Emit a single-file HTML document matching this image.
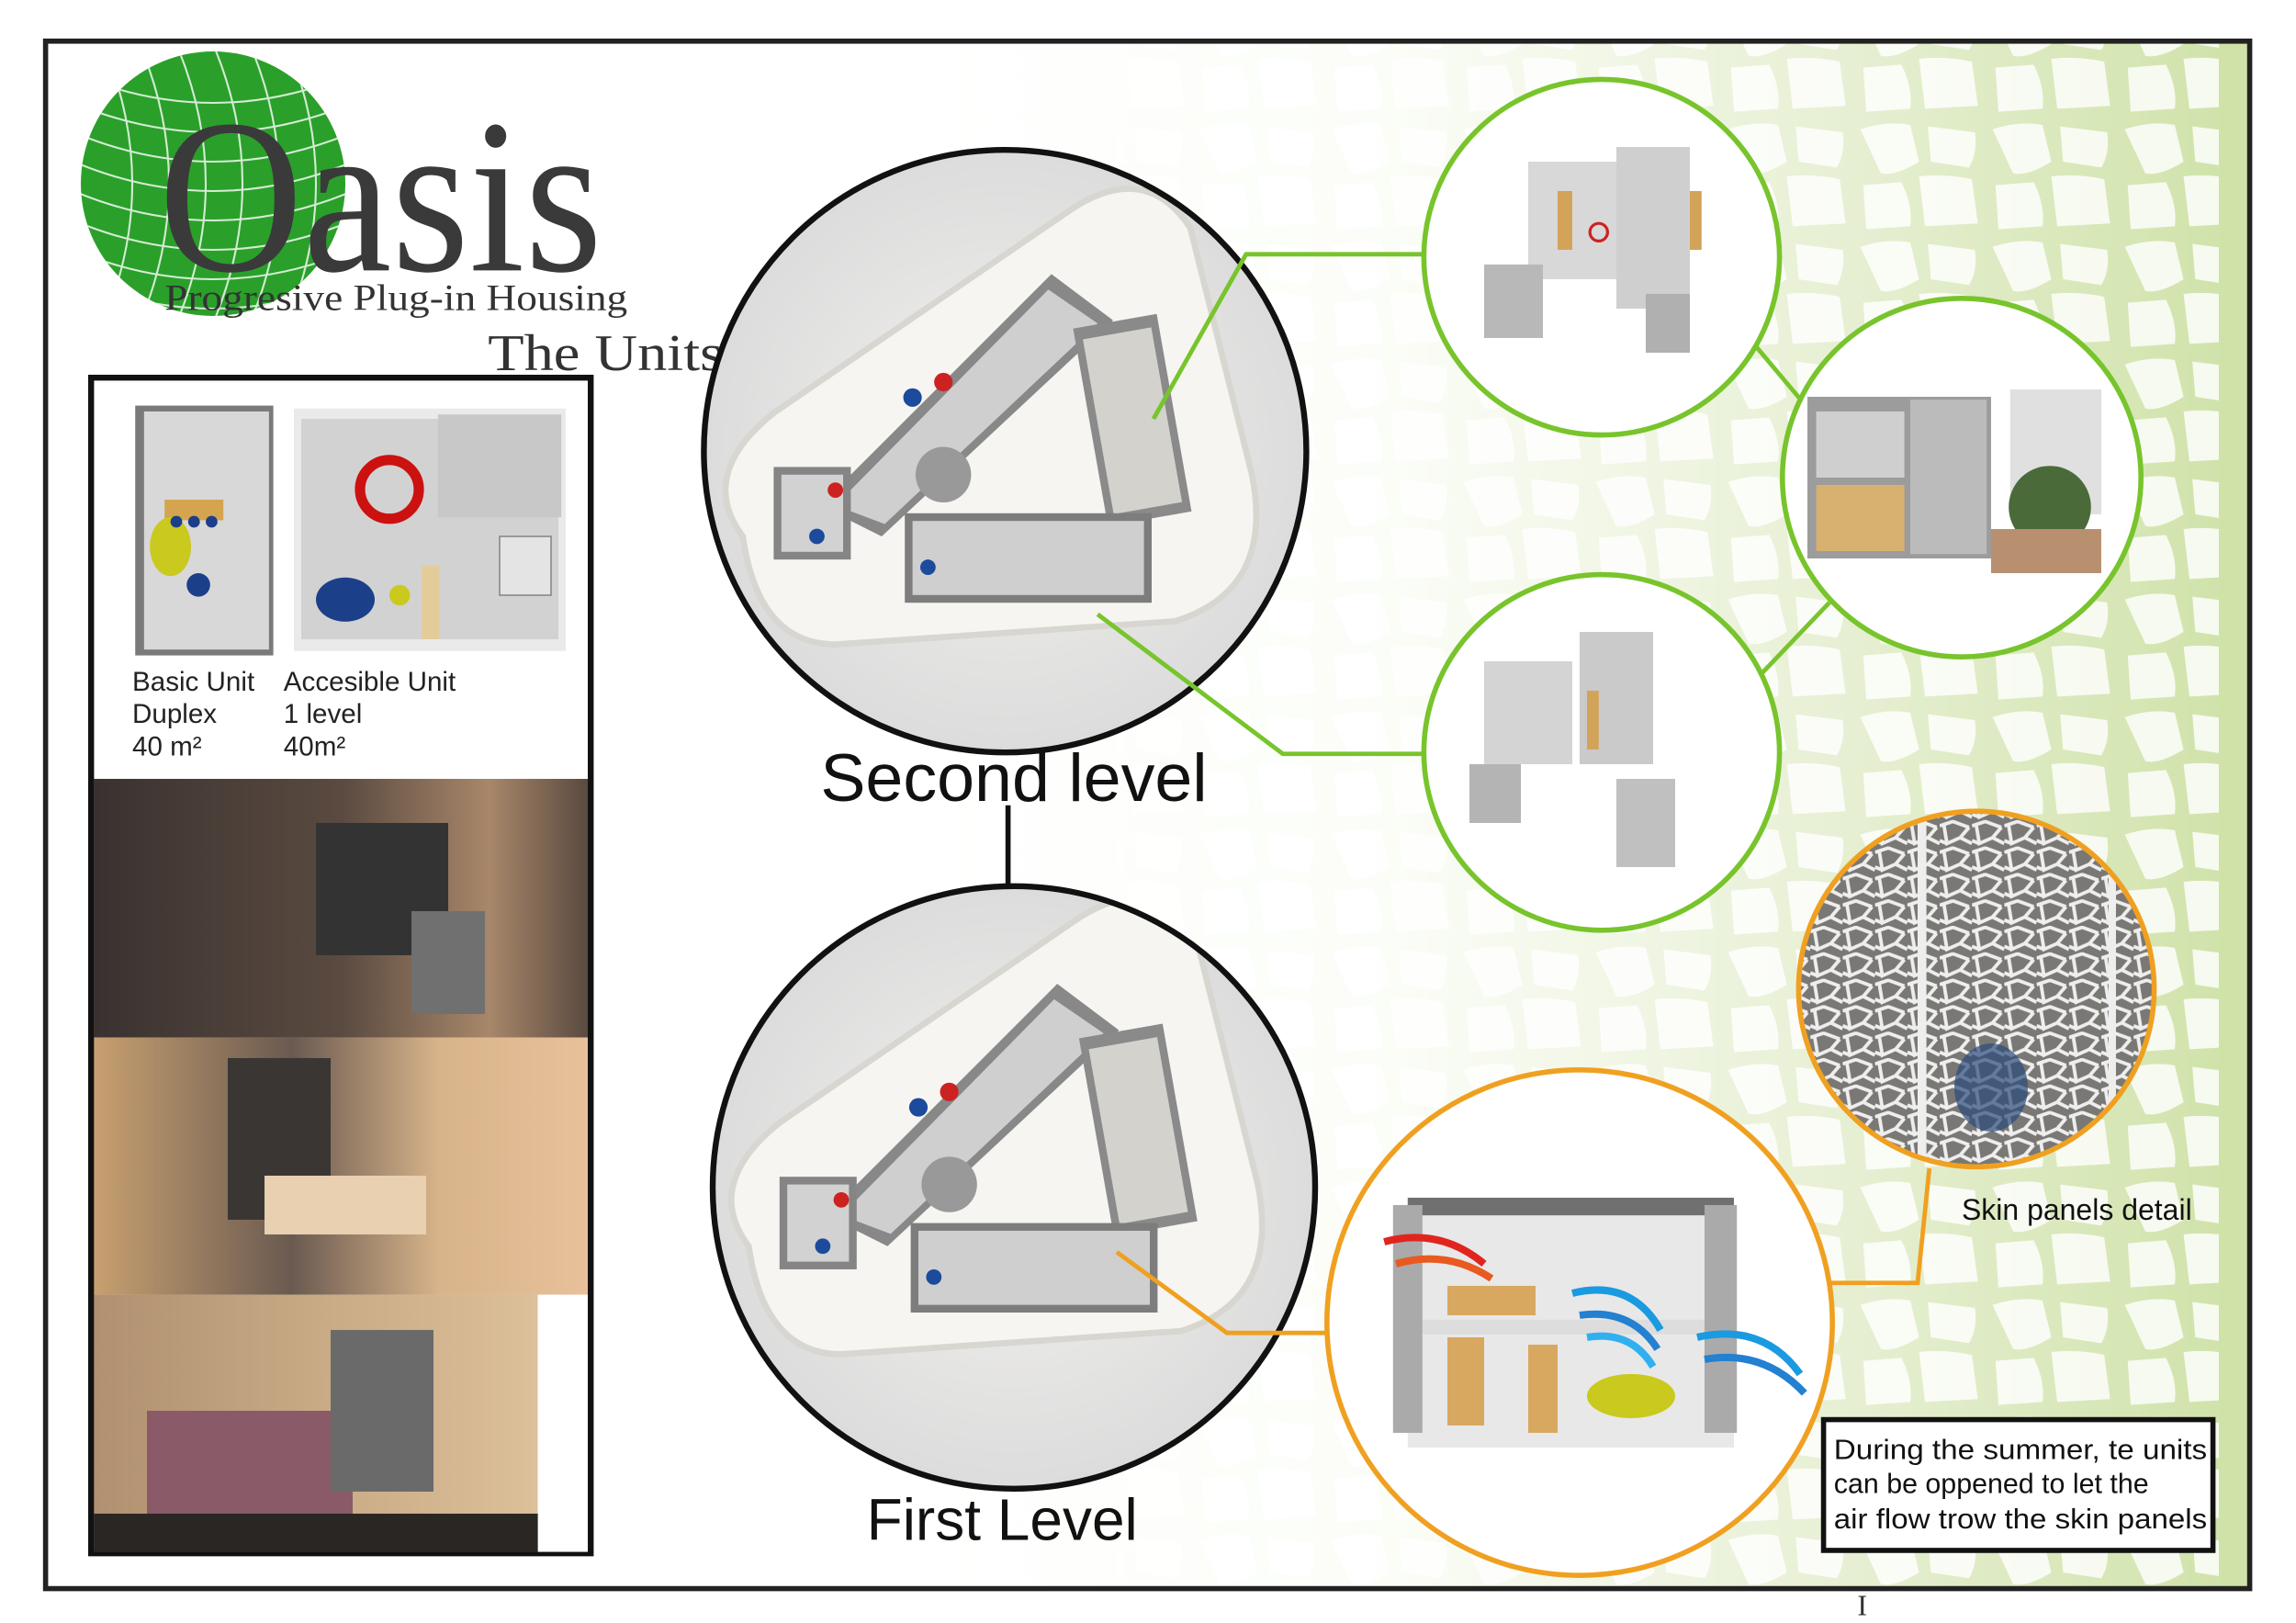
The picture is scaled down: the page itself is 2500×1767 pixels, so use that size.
<!DOCTYPE html>
<html><head><meta charset="utf-8"><style>
html,body{margin:0;padding:0;background:#fff;}
svg{display:block;}
.s{font-family:"Liberation Sans",sans-serif;}
.f{font-family:"Liberation Serif",serif;}
</style></head><body>
<svg width="2500" height="1767" viewBox="0 0 1562.5 1104.4" xmlns="http://www.w3.org/2000/svg">
<defs>
<linearGradient id="bg" x1="0" x2="1" y1="0" y2="0">
<stop offset="0" stop-color="#fff"/><stop offset="0.35" stop-color="#fbfdf7"/><stop offset="0.7" stop-color="#e6efd2"/><stop offset="1" stop-color="#cfe2a8"/></linearGradient>
<pattern id="cells" width="90" height="80" patternUnits="userSpaceOnUse">
<path d="M6 8 Q24 2 40 5 L46 30 Q30 40 20 38 Z M52 6 L84 10 Q86 24 80 34 L54 30 Z M8 46 L34 44 Q42 60 40 74 L10 76 Z M46 40 Q64 38 82 42 L86 72 L50 74 Z" fill="#fff" opacity="0.9"/>
</pattern>
<radialGradient id="floor" cx="0.5" cy="0.5" r="0.5"><stop offset="0" stop-color="#f3f2ef"/><stop offset="1" stop-color="#dcdcdc"/></radialGradient>
<pattern id="mesh" width="22" height="18" patternUnits="userSpaceOnUse"><rect width="22" height="18" fill="#7a7874"/><path d="M0 4 L9 1 L20 5 M3 4 L5 16 L14 12 L20 5 M14 12 L22 16 M0 14 L5 16" stroke="#eee" stroke-width="2.4" fill="none"/></pattern>
<clipPath id="c1"><circle cx="684" cy="307" r="205"/></clipPath>
<clipPath id="c2"><circle cx="690" cy="808" r="205"/></clipPath>
<clipPath id="cs"><circle cx="1345" cy="673" r="121"/></clipPath>
<clipPath id="cl"><circle cx="145" cy="125" r="90"/></clipPath>
<g id="bld">
<path d="M-170 60 Q-200 20 -150 -20 L40 -150 Q90 -185 120 -140 L160 20 Q175 95 110 115 L-110 130 Q-160 130 -170 60 Z" fill="#f6f5f1" stroke="#d8d6d0" stroke-width="4"/>
<path d="M-120 40 L30 -110 L70 -80 L-80 60 Z" fill="#888"/>
<path d="M-110 40 L28 -100 L60 -78 L-78 52 Z" fill="#cfcfcf"/>
<rect x="55" y="-80" width="55" height="130" fill="#8a8a8a" transform="rotate(-10 80 -15)"/>
<rect x="60" y="-72" width="45" height="115" fill="#d4d2cc" transform="rotate(-10 80 -15)"/>
<rect x="-65" y="45" width="160" height="58" fill="#7d7d7d"/>
<rect x="-60" y="50" width="150" height="48" fill="#cfcfcf"/>
<rect x="-150" y="15" width="50" height="60" fill="#858585"/>
<rect x="-145" y="20" width="40" height="50" fill="#d2d2d2"/>
<circle cx="-40" cy="20" r="18" fill="#999"/>
<circle cx="-60" cy="-30" r="6" fill="#1c4a9c"/><circle cx="-122" cy="60" r="5" fill="#1c4a9c"/><circle cx="-50" cy="80" r="5" fill="#1c4a9c"/>
<circle cx="-40" cy="-40" r="6" fill="#c22"/><circle cx="-110" cy="30" r="5" fill="#c22"/>
</g>
</defs>
<rect width="1562.5" height="1104.4" fill="#fff"/>
<rect x="640" y="29" width="890" height="1051" fill="url(#bg)"/>
<rect x="760" y="29" width="770" height="1051" fill="url(#cells)" opacity="0.9"/>
<rect x="1510" y="29" width="20" height="1051" fill="#cfe2a8"/>
<rect x="31" y="28" width="1500" height="1053" fill="none" stroke="#222" stroke-width="3.5"/>
<text class="f" x="1264" y="1099" font-size="20" fill="#333">I</text>

<!-- logo -->
<circle cx="145" cy="125" r="90" fill="#2aa02a"/>
<g clip-path="url(#cl)" stroke="#fff" stroke-width="1.3" fill="none" opacity="0.8">
<path d="M50 50 Q145 90 240 50 M50 70 Q145 110 240 70 M50 90 Q145 130 240 90 M50 110 Q145 150 240 110 M50 130 Q145 170 240 130 M50 150 Q145 190 240 150 M50 170 Q145 210 240 170 M50 190 Q145 230 240 190"/>
<path d="M70 30 Q110 125 70 220 M95 30 Q135 125 95 220 M120 30 Q160 125 120 220 M145 30 Q185 125 145 220 M170 30 Q210 125 170 220 M195 30 Q235 125 195 220"/>
</g>
<text class="f" x="108" y="184" font-size="150" fill="#3a3a3a" textLength="302" lengthAdjust="spacingAndGlyphs">Oasis</text>
<text class="f" x="112" y="211" font-size="25" fill="#333" textLength="315" lengthAdjust="spacingAndGlyphs">Progresive Plug-in Housing</text>
<text class="f" x="332" y="252" font-size="35" fill="#333" textLength="160" lengthAdjust="spacingAndGlyphs">The Units</text>

<!-- left panel -->
<rect x="62" y="257" width="340" height="800" fill="#fff" stroke="#111" stroke-width="4"/>
<rect x="92" y="276" width="94" height="170" fill="#7a7a7a"/>
<rect x="98" y="280" width="85" height="162" fill="#d8d8d8"/>
<rect x="112" y="340" width="40" height="14" fill="#d5a44e"/>
<ellipse cx="116" cy="372" rx="14" ry="20" fill="#c9c91e"/>
<circle cx="120" cy="355" r="4" fill="#1c3f8a"/><circle cx="132" cy="355" r="4" fill="#1c3f8a"/><circle cx="144" cy="355" r="4" fill="#1c3f8a"/>
<circle cx="135" cy="398" r="8" fill="#1c3f8a"/>
<rect x="200" y="278" width="185" height="165" fill="#eaeaea"/>
<rect x="205" y="285" width="175" height="150" fill="#d2d2d2"/>
<rect x="298" y="282" width="84" height="70" fill="#c8c8c8"/>
<circle cx="265" cy="333" r="20" fill="none" stroke="#c11" stroke-width="7"/>
<ellipse cx="235" cy="408" rx="20" ry="15" fill="#1c3f8a"/>
<circle cx="272" cy="405" r="7" fill="#c9c91e"/>
<rect x="287" y="385" width="12" height="50" fill="#e3cc9a"/>
<rect x="340" y="365" width="35" height="40" fill="#e4e4e4" stroke="#888"/>
<g class="s" font-size="18.5" fill="#222">
<text x="90" y="470">Basic Unit</text><text x="90" y="492">Duplex</text><text x="90" y="514">40 m²</text>
<text x="193" y="470">Accesible Unit</text><text x="193" y="492">1 level</text><text x="193" y="514">40m²</text>
</g>
<defs>
<linearGradient id="p1" x1="0" x2="1"><stop offset="0" stop-color="#3a3230"/><stop offset="0.5" stop-color="#5a4a40"/><stop offset="0.8" stop-color="#a8876a"/><stop offset="1" stop-color="#5a4a40"/></linearGradient>
<linearGradient id="p2" x1="0" x2="1"><stop offset="0" stop-color="#c8a070"/><stop offset="0.4" stop-color="#6a5a50"/><stop offset="0.7" stop-color="#d8b48a"/><stop offset="1" stop-color="#e8c09a"/></linearGradient>
<linearGradient id="p3" x1="0" x2="1"><stop offset="0" stop-color="#b09070"/><stop offset="0.5" stop-color="#c8aa85"/><stop offset="1" stop-color="#dcc09a"/></linearGradient>
</defs>
<rect x="64" y="530" width="336" height="176" fill="url(#p1)"/>
<rect x="215" y="560" width="90" height="90" fill="#333"/><rect x="280" y="620" width="50" height="70" fill="#707070"/>
<rect x="64" y="706" width="336" height="175" fill="url(#p2)"/>
<rect x="155" y="720" width="70" height="110" fill="#3a3634"/><rect x="180" y="800" width="110" height="40" fill="#e8d0b0"/>
<rect x="64" y="881" width="302" height="175" fill="url(#p3)"/>
<rect x="366" y="881" width="34" height="175" fill="#fff"/>
<rect x="100" y="960" width="140" height="80" fill="#8a5a68"/><rect x="225" y="905" width="70" height="110" fill="#6a6a6a"/>
<rect x="64" y="1030" width="302" height="26" fill="#2a2624"/>

<!-- big circles -->
<circle cx="684" cy="307" r="205" fill="url(#floor)"/>
<g clip-path="url(#c1)"><use href="#bld" transform="translate(684 302) scale(1.05)"/></g>
<circle cx="684" cy="307" r="205" fill="none" stroke="#111" stroke-width="4"/>
<circle cx="690" cy="808" r="205" fill="url(#floor)"/>
<g clip-path="url(#c2)"><use href="#bld" transform="translate(688 785) scale(1.05)"/></g>
<circle cx="690" cy="808" r="205" fill="none" stroke="#111" stroke-width="4"/>
<line x1="686" y1="548" x2="686" y2="604" stroke="#111" stroke-width="3.5"/>
<text class="s" x="690" y="545" font-size="46" text-anchor="middle" fill="#111">Second level</text>
<text class="s" x="682" y="1048" font-size="40" text-anchor="middle" fill="#111">First Level</text>

<!-- connectors -->
<g stroke="#78c42c" stroke-width="3" fill="none">
<polyline points="785,285 848,173 968,173"/>
<polyline points="747,418 873,513 968,513"/>
<line x1="1165" y1="200" x2="1228" y2="275"/>
<line x1="1180" y1="478" x2="1245" y2="410"/>
</g>
<g stroke="#f0a020" stroke-width="3" fill="none">
<polyline points="760,852 835,907 902,907"/>
<polyline points="1185,873 1305,873 1313,795"/>
</g>

<!-- green detail circles -->
<circle cx="1090" cy="175" r="121" fill="#fff" stroke="#78c42c" stroke-width="3.5"/>
<g fill="#aaa"><rect x="1000" y="95" width="18" height="60" transform="skewY(-10)"/><rect x="1040" y="110" width="60" height="80" fill="#d8d8d8"/><rect x="1100" y="100" width="50" height="110" fill="#cfcfcf"/><rect x="1010" y="180" width="40" height="50" fill="#b8b8b8"/><rect x="1120" y="200" width="30" height="40" fill="#b0b0b0"/><rect x="1060" y="130" width="10" height="40" fill="#d4a35a"/><rect x="1150" y="130" width="8" height="40" fill="#d4a35a"/><circle cx="1088" cy="158" r="6" fill="none" stroke="#c22" stroke-width="2"/></g>
<circle cx="1335" cy="325" r="122" fill="#fff" stroke="#78c42c" stroke-width="3.5"/>
<rect x="1230" y="270" width="125" height="110" fill="#9c9c9c"/>
<rect x="1236" y="280" width="60" height="45" fill="#cfcfcf"/><rect x="1236" y="330" width="60" height="45" fill="#d8b070"/>
<rect x="1300" y="272" width="52" height="105" fill="#bbb"/>
<rect x="1368" y="265" width="62" height="85" fill="#e0e0e0"/>
<circle cx="1395" cy="345" r="28" fill="#4a6a3a"/><rect x="1355" y="360" width="75" height="30" fill="#b89070"/>
<circle cx="1090" cy="512" r="121" fill="#fff" stroke="#78c42c" stroke-width="3.5"/>
<g><rect x="1010" y="450" width="60" height="70" fill="#d4d4d4"/><rect x="1075" y="430" width="50" height="90" fill="#cacaca"/><rect x="1000" y="520" width="35" height="40" fill="#b4b4b4"/><rect x="1100" y="530" width="40" height="60" fill="#c0c0c0"/><rect x="1080" y="470" width="8" height="40" fill="#d4a35a"/></g>

<!-- skin detail -->
<circle cx="1345" cy="673" r="121" fill="url(#mesh)"/>
<g clip-path="url(#cs)"><rect x="1305" y="550" width="6" height="250" fill="#eee"/><rect x="1435" y="550" width="5" height="250" fill="#eee"/><ellipse cx="1355" cy="740" rx="25" ry="30" fill="#2a4a7a" opacity="0.7"/></g>
<circle cx="1345" cy="673" r="121" fill="none" stroke="#f0a020" stroke-width="3.5"/>
<text class="s" x="1335" y="830" font-size="20" fill="#111">Skin panels detail</text>

<!-- orange big -->
<circle cx="1075" cy="900" r="172" fill="#fff" stroke="#f0a020" stroke-width="3.5"/>
<rect x="958" y="815" width="222" height="170" fill="#e8e8e8"/>
<rect x="958" y="815" width="222" height="12" fill="#707070"/>
<rect x="958" y="898" width="222" height="10" fill="#ddd"/>
<rect x="948" y="820" width="20" height="155" fill="#aaa"/><rect x="1160" y="820" width="22" height="155" fill="#aaa"/>
<rect x="985" y="875" width="60" height="20" fill="#d8a860"/>
<rect x="985" y="910" width="25" height="60" fill="#d8a860"/><rect x="1040" y="915" width="20" height="60" fill="#d8a860"/>
<ellipse cx="1110" cy="950" rx="30" ry="15" fill="#c9c91e"/>
<g fill="none" stroke-width="5">
<path d="M942 845 Q980 835 1010 860" stroke="#e0251f"/><path d="M950 860 Q985 850 1015 870" stroke="#e85a20"/>
<path d="M1070 880 Q1110 870 1130 905" stroke="#1a9ae0"/><path d="M1075 895 Q1110 890 1128 918" stroke="#2480d0"/><path d="M1080 910 Q1110 905 1125 930" stroke="#30b0f0"/>
<path d="M1155 910 Q1200 900 1225 935" stroke="#1a9ae0"/><path d="M1160 925 Q1200 918 1228 948" stroke="#2480d0"/>
</g>

<!-- note box -->
<rect x="1241" y="966" width="265" height="89" fill="#fff" stroke="#111" stroke-width="3.5"/>
<g class="s" font-size="19" fill="#111">
<text x="1248" y="993" textLength="254" lengthAdjust="spacingAndGlyphs">During the summer, te units</text>
<text x="1248" y="1016">can be oppened to let the</text>
<text x="1248" y="1040" textLength="254" lengthAdjust="spacingAndGlyphs">air flow trow the skin panels</text>
</g>
</svg>
</body></html>
